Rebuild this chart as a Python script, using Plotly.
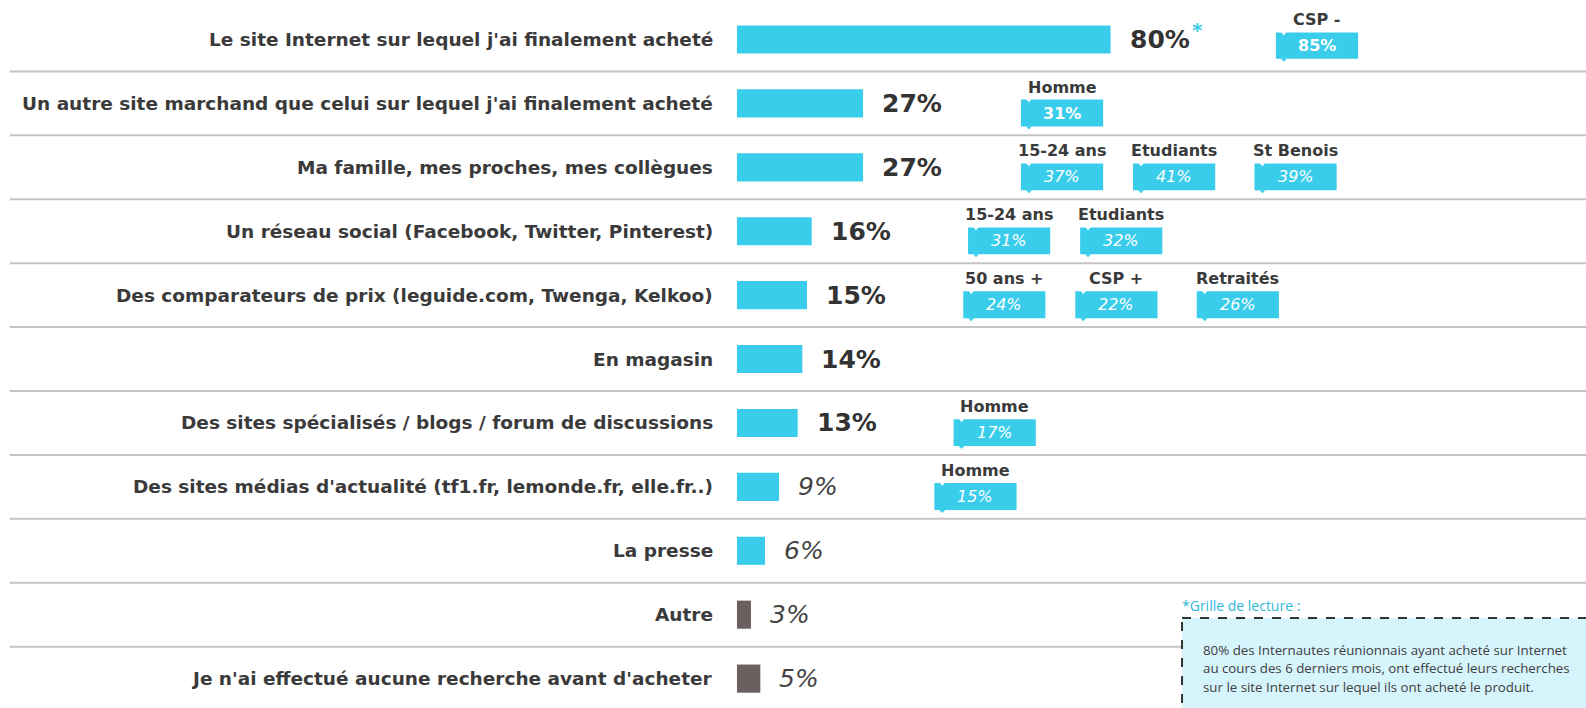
import plotly.graph_objects as go

categories = [
    "Le site Internet sur lequel j'ai finalement acheté",
    "Un autre site marchand que celui sur lequel j'ai finalement acheté",
    "Ma famille, mes proches, mes collègues",
    "Un réseau social (Facebook, Twitter, Pinterest)",
    "Des comparateurs de prix (leguide.com, Twenga, Kelkoo)",
    "En magasin",
    "Des sites spécialisés / blogs / forum de discussions",
    "Des sites médias d'actualité (tf1.fr, lemonde.fr, elle.fr..)",
    "La presse",
    "Autre",
    "Je n'ai effectué aucune recherche avant d'acheter",
]
values = [80, 27, 27, 16, 15, 14, 13, 9, 6, 3, 5]

# sub-population scores shown in the little callouts
sub_labels = [
    ["CSP -"],
    ["Homme"],
    ["15-24 ans", "Etudiants", "St Benois"],
    ["15-24 ans", "Etudiants"],
    ["50 ans +", "CSP +", "Retraités"],
    [],
    ["Homme"],
    ["Homme"],
    [],
    [],
    [],
]
sub_values = [
    [85],
    [31],
    [37, 41, 39],
    [31, 32],
    [24, 22, 26],
    [],
    [17],
    [15],
    [],
    [],
    [],
]

reading_title = "*Grille de lecture :"
reading_lines = [
    "80% des Internautes réunionnais ayant acheté sur Internet",
    "au cours des 6 derniers mois, ont effectué leurs recherches",
    "sur le site Internet sur lequel ils ont acheté le produit.",
]

CYAN = "#3ACDEB"
BROWN = "#6B5F5F"
TEXT = "#3A3A3A"

n = len(categories)
rows = list(range(n))
bar_colors = [CYAN] * 9 + [BROWN] * 2

fig = go.Figure()
fig.add_trace(go.Bar(
    x=values,
    y=rows,
    orientation="h",
    width=0.44,
    marker=dict(color=bar_colors, line=dict(width=0)),
    hoverinfo="skip",
))

shapes = []
annotations = []

# row separators
for i in range(n - 1):
    shapes.append(dict(type="line", xref="x", yref="y", x0=-155.7, x1=190,
                       y0=i + 0.5, y1=i + 0.5,
                       line=dict(color="#C4C4C4", width=2), layer="below"))

for i in rows:
    # category label
    annotations.append(dict(x=0, y=i, xref="x", yref="y", xanchor="right",
                            xshift=-22, showarrow=False, text=categories[i],
                            font=dict(family="DejaVu Sans", size=18.5, color=TEXT,
                                      weight="bold")))
    # value label
    italic = i >= 7
    annotations.append(dict(x=values[i], y=i, xref="x", yref="y", xanchor="left",
                            xshift=17, showarrow=False, text=f"{values[i]}%",
                            font=dict(family="DejaVu Sans", size=25,
                                      color="#444444" if italic else "#333333",
                                      style="italic" if italic else "normal",
                                      weight="normal" if italic else "bold")))
    # callouts
    start = values[i] + 33 + 0.03 * values[i]
    slot_off = [0, 24, 50]
    for j, (lab, v) in enumerate(zip(sub_labels[i], sub_values[i])):
        x0 = start + slot_off[j]
        x1 = x0 + 17.6
        y0 = i - 0.06 if i else i - 0.11
        y1 = i + 0.36 if i else i + 0.30
        shapes.append(dict(type="rect", xref="x", yref="y", x0=x0, x1=x1,
                           y0=y0, y1=y1, fillcolor=CYAN, line=dict(width=0)))
        # small notch on top, tail at bottom
        shapes.append(dict(type="path", xref="x", yref="y", xsizemode="pixel",
                           ysizemode="pixel", xanchor=x0 + 1.7, yanchor=y0,
                           path="M -3 1 L 3 1 L 0 -3 Z", fillcolor="white",
                           line=dict(width=0)))
        shapes.append(dict(type="path", xref="x", yref="y", xsizemode="pixel",
                           ysizemode="pixel", xanchor=x0 + 1.7, yanchor=y1,
                           path="M -3 0 L 3 0 L 0 -3 Z", fillcolor=CYAN,
                           line=dict(width=0)))
        annotations.append(dict(x=(x0 + x1) / 2, y=y0, xref="x", yref="y",
                                yanchor="bottom", yshift=1, showarrow=False,
                                text=lab,
                                font=dict(family="DejaVu Sans", size=16,
                                          color=TEXT, weight="bold")))
        annotations.append(dict(x=(x0 + x1) / 2, y=(y0 + y1) / 2, xref="x",
                                yref="y", showarrow=False, text=f"{v}%",
                                font=dict(family="DejaVu Sans", size=16,
                                          color="white",
                                          style="normal" if i < 2 else "italic",
                                          weight="bold" if i < 2 else "normal")))

# cyan asterisk next to the first value
annotations.append(dict(x=values[0], y=0, xref="x", yref="y", xshift=87,
                        yshift=10, showarrow=False, text="*",
                        font=dict(family="DejaVu Sans", size=20, color=CYAN,
                                  weight="bold")))

# reading guide box
shapes.append(dict(type="rect", xref="x", yref="y", x0=95.3, x1=200,
                   y0=9.05, y1=11.5, fillcolor="#D6F4FB",
                   line=dict(color="#333333", width=2, dash="dash")))
annotations.append(dict(x=95.3, y=8.85, xref="x", yref="y", xanchor="left",
                        xshift=-2, showarrow=False, text=reading_title,
                        font=dict(family="Open Sans", size=14, color="#2FB8D8")))
for k, line in enumerate(reading_lines):
    annotations.append(dict(x=95.3, y=9.55 + k * 0.29, xref="x", yref="y",
                            xanchor="left", xshift=19, showarrow=False, text=line,
                            font=dict(family="Open Sans", size=13.3, color="#404040")))

fig.update_layout(
    width=1586,
    height=708,
    margin=dict(l=0, r=0, t=8, b=0),
    paper_bgcolor="white",
    plot_bgcolor="white",
    showlegend=False,
    xaxis=dict(visible=False, range=[-157.8, 181.8], fixedrange=True),
    yaxis=dict(visible=False, range=[10.46, -0.493], fixedrange=True),
    shapes=shapes,
    annotations=annotations,
)

fig.write_html("out.html", config={"displayModeBar": False},
               post_script="document.body.style.margin='0';document.body.style.overflow='hidden';")
